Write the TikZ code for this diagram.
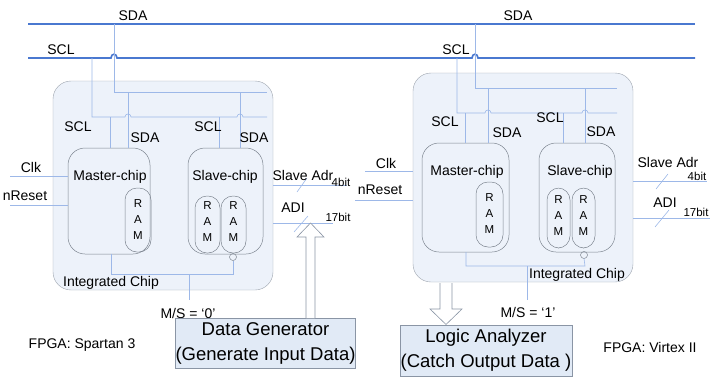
\documentclass[tikz,border=0pt]{standalone}
\usepackage{fontspec}
\setmainfont{Liberation Sans}
\definecolor{busblue}{HTML}{4A78D0}
\definecolor{wireblue}{HTML}{9DB8E8}
\definecolor{blockfill}{HTML}{EDF2FA}
\definecolor{blockdraw}{HTML}{9CA3AD}
\definecolor{chipdraw}{HTML}{7D8590}
\definecolor{boxfill}{HTML}{E1EAF6}
\definecolor{boxdraw}{HTML}{8A95A5}
\begin{document}
\begin{tikzpicture}[x=1pt,y=-1pt,
  bus/.style={draw=busblue, line width=1.6pt},
  wire/.style={draw=wireblue, line width=0.6pt},
  block/.style={draw=blockdraw, fill=blockfill, rounded corners=18pt, rectangle, inner sep=0},
  chip/.style={draw=chipdraw, rounded corners=17pt, rectangle, inner sep=0, line width=0.5pt},
  ram/.style={draw=chipdraw, rounded corners=12pt, rectangle, inner sep=0, line width=0.5pt},
  lbl/.style={font=\fontsize{14}{16}\selectfont, inner sep=0},
  tiny/.style={font=\fontsize{11.5}{12}\selectfont, inner sep=0},
  ramtxt/.style={font=\fontsize{11.5}{16}\selectfont, inner sep=0, align=center},
  bigbox/.style={draw=boxdraw, fill=boxfill, rectangle, inner sep=0, font=\fontsize{18.5}{25}\selectfont, align=center},
  hollow/.style={draw=boxdraw, fill=white, line width=0.6pt, line join=miter}
]
\useasboundingbox (0,0) rectangle (710,378);

% ---------- blocks ----------
\node[block, minimum width=220pt, minimum height=209pt] (blkL) at (163,185.5) {};
\node[block, minimum width=220pt, minimum height=209pt] (blkR) at (523,177.5) {};

% ---------- buses ----------
\draw[bus] (28,24) -- (695,24);
\draw[bus] (28,58) -- (111,58) .. controls (111,53) and (117,53) .. (117,58) -- (472,58) .. controls (472,53) and (478,53) .. (478,58) -- (695,58);
\node[lbl] (sdaL) at (133,16) {SDA};
\node[lbl] (sclL) at (61,50) {SCL};
\node[lbl] (sdaR) at (518,16) {SDA};
\node[lbl] (sclR) at (456,50) {SCL};

% ---------- chips left ----------
\node[chip, minimum width=82pt, minimum height=106pt] (mcL) at (109,201) {};
\node[chip, minimum width=75pt, minimum height=106pt] (scL) at (225.5,201) {};
\node[ram, minimum width=26pt, minimum height=64pt] (ramL) at (138,220) {};
\node[ram, minimum width=25pt, minimum height=57pt] (ramL1) at (207.5,224.5) {};
\node[ram, minimum width=25pt, minimum height=57pt] (ramL2) at (233.5,224.5) {};
\node[lbl] (mtL) at (110,177) {Master-chip};
\node[lbl] (stL) at (225,177) {Slave-chip};
\node[ramtxt] at (ramL.center) {R\\A\\M};
\node[ramtxt] at (207.5,222) {R\\A\\M};
\node[ramtxt] at (233.5,222) {R\\A\\M};
\draw[chipdraw, line width=0.5pt] (233,257) circle (3.5pt);
\coordinate (cirL) at (233,260.5);

% ---------- chips right ----------
\node[chip, minimum width=87pt, minimum height=109pt] (mcR) at (465.5,197.5) {};
\node[chip, minimum width=76pt, minimum height=109pt] (scR) at (577,197.5) {};
\node[ram, minimum width=27pt, minimum height=65pt] (ramR) at (489.5,214.5) {};
\node[ram, minimum width=23pt, minimum height=60pt] (ramR1) at (558.5,218) {};
\node[ram, minimum width=23pt, minimum height=60pt] (ramR2) at (583.5,218) {};
\node[lbl] (mtR) at (467,172) {Master-chip};
\node[lbl] (stR) at (580,172) {Slave-chip};
\node[ramtxt] at (489.5,214) {R\\A\\M};
\node[ramtxt] at (558.5,216) {R\\A\\M};
\node[ramtxt] at (583.5,216) {R\\A\\M};
\draw[chipdraw, line width=0.5pt] (584,255) circle (3.5pt);
\coordinate (cirR) at (584,258.5);

% ---------- inner wiring left ----------
\draw[wire] (114,24) -- (114,92) -- (267,92);
\draw[wire] (92,58) -- (92,117) -- (125,117) .. controls (125,113) and (131,113) .. (131,117) -- (237,117) .. controls (237,113) and (243,113) .. (243,117) -- (267,117);
\draw[wire] (128,92) -- (128,148);
\draw[wire] (240,92) -- (240,148);
\draw[wire] (110,117) -- (110,148);
\draw[wire] (219,117) -- (219,148);
\node[lbl] at (78,127) {SCL};
\node[lbl] at (145,138) {SDA};
\node[lbl] at (208,127) {SCL};
\node[lbl] at (254,138) {SDA};

% ---------- inner wiring right ----------
\draw[wire] (475,24) -- (475,88) -- (617,88);
\draw[wire] (457,58) -- (457,113) -- (485,113) .. controls (485,109) and (491,109) .. (491,113) -- (582,113) .. controls (582,109) and (588,109) .. (588,113) -- (617,113);
\draw[wire] (488,88) -- (488,143);
\draw[wire] (585,88) -- (585,143);
\draw[wire] (465,113) -- (465,143);
\draw[wire] (563,113) -- (563,143);
\node[lbl] at (445,122) {SCL};
\node[lbl] at (507,133) {SDA};
\node[lbl] at (550,118) {SCL};
\node[lbl] at (601,132) {SDA};

% ---------- bottom wiring left ----------
\coordinate (msL) at (189,300);
\draw[wire] (111,254) -- (111,274) -- (233,274) -- (cirL);
\draw[wire] (189,274) -- (msL);
\node[lbl] at (111,283) {Integrated Chip};
\node[lbl] (msLt) at (188,313) {M/S = `0'};

% ---------- bottom wiring right ----------
\coordinate (msR) at (527,300);
\draw[wire] (466,252) -- (466,266) -- (585,266) -- (cirR);
\draw[wire] (527,266) -- (msR);
\node[lbl] at (577,275) {Integrated Chip};
\node[lbl] (msRt) at (528,312) {M/S = `1'};

% ---------- inputs left ----------
\draw[wire] (10,176) -- (68,176);
\draw[wire] (10,205) -- (68,205);
\node[lbl] at (31,167) {Clk};
\node[lbl] at (25,196) {nReset};

% ---------- inputs right ----------
\draw[wire] (365,171) -- (413,171);
\draw[wire] (355,200) -- (413,200);
\node[lbl] at (386,163) {Clk};
\node[lbl] at (380,190) {nReset};

% ---------- outputs left ----------
\draw[wire] (273,185) -- (347,185);
\draw[wire] (297,192) -- (307,178);
\node[lbl] at (303,175) {Slave Adr};
\node[tiny, anchor=south] at (341,186.5) {4bit};
\draw[wire] (273,223) -- (333,223);
\draw[wire] (294,232) -- (308,216);
\node[lbl] at (293,208) {ADI};
\node[tiny, anchor=south] at (338,222) {17bit};

% ---------- outputs right ----------
\draw[wire] (633,181) -- (707,181);
\draw[wire] (656,189) -- (668,174);
\node[lbl] at (668,162) {Slave Adr};
\node[tiny, anchor=south] at (697,181) {4bit};
\draw[wire] (633,218) -- (710,218);
\draw[wire] (655,227) -- (669,210);
\node[lbl] at (665,203) {ADI};
\node[tiny, anchor=south] at (696,217) {17bit};

% ---------- boxes ----------
\node[bigbox, minimum width=175pt, minimum height=50pt] (dg) at (265.5,343) {Data Generator\\(Generate Input Data)};
\node[bigbox, minimum width=172pt, minimum height=51pt] (la) at (486,350.5) {Logic Analyzer\\(Catch Output Data )};

% ---------- hollow arrows ----------
\draw[hollow] (306,318) -- (306,237) -- (297,237) -- (310.5,223) -- (324,237) -- (315,237) -- (315,318);
\draw[hollow] (440,283) -- (440,309) -- (430,309) -- (446,324.5) -- (462,309) -- (452,309) -- (452,283);

% ---------- FPGA labels ----------
\node[lbl] at (82,345) {FPGA: Spartan 3};
\node[lbl] at (650,347) {FPGA: Virtex II};
\end{tikzpicture}
\end{document}
